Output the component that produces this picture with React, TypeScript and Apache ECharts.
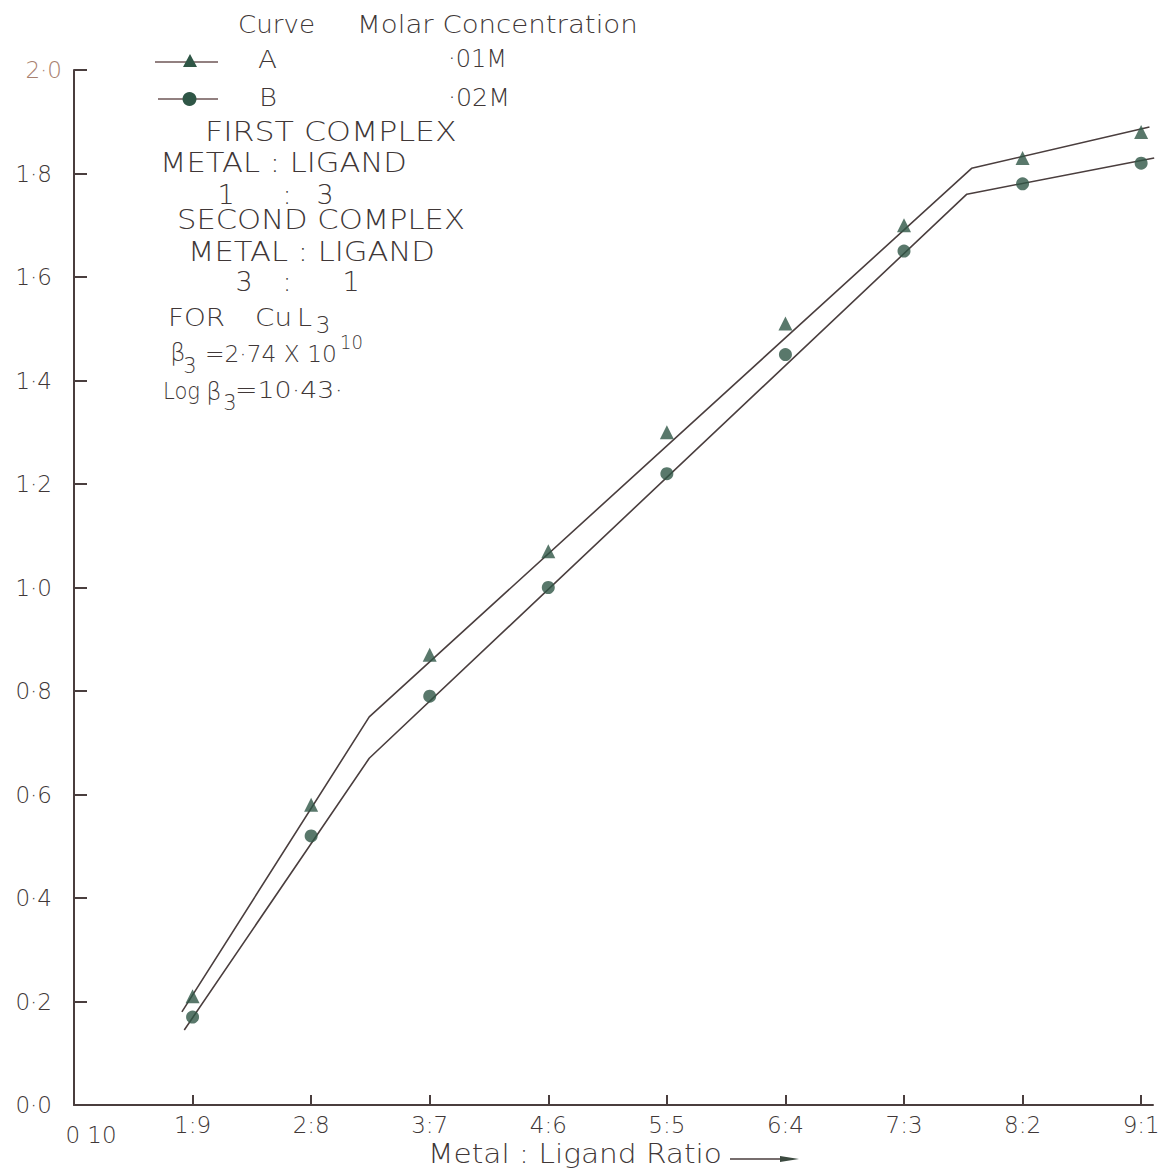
import React, { useEffect, useRef } from "react";
import * as echarts from "echarts";

const ratioPositions = [1, 2, 3, 4, 5, 6, 7, 8, 9];
const labelPositions = [0, 1, 2, 3, 4, 5, 6, 7, 8, 9];
const xTickLabels = ["0 10", "1:9", "2:8", "3:7", "4:6", "5:5", "6:4", "7:3", "8:2", "9:1"];
const yTickLabels = ["0·0", "0·2", "0·4", "0·6", "0·8", "1·0", "1·2", "1·4", "1·6", "1·8", "2·0"];

const curveA = [0.21, 0.58, 0.87, 1.07, 1.3, 1.51, 1.7, 1.83, 1.88];
const curveB = [0.17, 0.52, 0.79, 1.0, 1.22, 1.45, 1.65, 1.78, 1.82];

const fitA: [number, number][] = [[0.91, 0.18], [2.49, 0.75], [7.57, 1.81], [9.07, 1.89]];
const fitB: [number, number][] = [[0.93, 0.145], [2.49, 0.67], [7.53, 1.76], [9.11, 1.83]];

const FONT = "'DejaVu Sans', sans-serif";
const WEIGHT = 200;
const TEXT = "#403737";
const LINE = "#4a3e3e";
const MARK = "#2f5646";

let measureCtx: CanvasRenderingContext2D | null = null;
function measure(text: string, size: number) {
  if (!measureCtx) measureCtx = document.createElement("canvas").getContext("2d");
  measureCtx!.font = `${WEIGHT} ${size}px ${FONT}`;
  return measureCtx!.measureText(text).width;
}

// text stretched to span x1..x2, vertically centred on cy
function fit(text: string, x1: number, x2: number, cy: number, size: number) {
  const w = measure(text, size);
  return {
    type: "text",
    x: x1,
    y: cy,
    scaleX: (x2 - x1) / w,
    style: {
      text,
      fill: TEXT,
      font: `${WEIGHT} ${size}px ${FONT}`,
      textAlign: "left",
      textVerticalAlign: "middle",
    },
  };
}

function at(text: string, cx: number, cy: number, size: number) {
  return {
    type: "text",
    x: cx,
    y: cy,
    style: {
      text,
      fill: TEXT,
      font: `${WEIGHT} ${size}px ${FONT}`,
      textAlign: "center",
      textVerticalAlign: "middle",
    },
  };
}

export default function App() {
  const ref = useRef<HTMLDivElement>(null);
  useEffect(() => {
    document.body.style.margin = "0";
    const chart = echarts.init(ref.current!, null, { renderer: "svg" });
    const option: any = {
      animation: false,
      backgroundColor: "#ffffff",
      textStyle: { fontFamily: FONT },
      grid: { left: 74, right: 10, top: 70, bottom: 64 },
      xAxis: {
        type: "value",
        min: 0,
        max: 9.1,
        interval: 1,
        splitLine: { show: false },
        axisLine: { lineStyle: { color: LINE, width: 2 } },
        axisTick: {
          inside: true,
          length: 10,
          customValues: ratioPositions,
          lineStyle: { color: LINE, width: 2 },
        },
        axisLabel: {
          customValues: labelPositions,
          color: TEXT,
          fontSize: 23,
          fontWeight: WEIGHT,
          fontFamily: FONT,
          margin: 8,
          formatter: (v: number) => {
            const i = Math.round(v);
            if (i === 0) return "{z|" + xTickLabels[0] + "}";
            return xTickLabels[i] ?? "";
          },
          rich: {
            z: { fontSize: 23, fontWeight: WEIGHT, fontFamily: FONT, color: TEXT, padding: [10, 0, 0, 34] },
          },
        },
      },
      yAxis: {
        type: "value",
        min: 0,
        max: 2,
        interval: 0.2,
        splitLine: { show: false },
        axisLine: { show: true, lineStyle: { color: LINE, width: 2 } },
        axisTick: { show: true, inside: true, length: 13, lineStyle: { color: LINE, width: 2 } },
        axisLabel: {
          color: TEXT,
          fontSize: 23,
          fontWeight: WEIGHT,
          fontFamily: FONT,
          margin: 22,
          formatter: (v: number) => {
            const i = Math.round(v / 0.2);
            if (i === yTickLabels.length - 1) return "{o|" + yTickLabels[i] + "}";
            return yTickLabels[i] ?? "";
          },
          rich: {
            o: { fontSize: 23, fontWeight: WEIGHT, fontFamily: FONT, color: "#a8806e", padding: [0, -10, 0, 0] },
          },
        },
      },
      series: [
        { type: "line", data: fitA, symbol: "none", lineStyle: { color: LINE, width: 1.6 }, z: 2 },
        { type: "line", data: fitB, symbol: "none", lineStyle: { color: LINE, width: 1.6 }, z: 2 },
        {
          type: "scatter",
          name: "A",
          data: ratioPositions.map((x, i) => [x, curveA[i]]),
          symbol: "triangle",
          symbolSize: 14,
          itemStyle: { color: MARK },
          z: 3,
        },
        {
          type: "scatter",
          name: "B",
          data: ratioPositions.map((x, i) => [x, curveB[i]]),
          symbol: "circle",
          symbolSize: 13,
          itemStyle: { color: MARK },
          z: 3,
        },
      ],
      graphic: [
        fit("Curve", 238, 315, 24, 25),
        fit("Molar Concentration", 357, 638, 24, 25),
        { type: "line", shape: { x1: 155, y1: 62, x2: 218, y2: 62 }, style: { stroke: "#6e5656", lineWidth: 1.5 } },
        { type: "polygon", shape: { points: [[190, 54], [183, 67], [197, 67]] }, style: { fill: MARK } },
        fit("A", 258, 277, 60, 24),
        fit("·01M", 448, 507, 59, 24),
        { type: "line", shape: { x1: 158, y1: 99, x2: 218, y2: 99 }, style: { stroke: "#6e5656", lineWidth: 1.5 } },
        { type: "circle", shape: { cx: 189.5, cy: 99, r: 7 }, style: { fill: MARK } },
        fit("B", 259, 277, 98, 24),
        fit("·02M", 448, 510, 98, 24),
        fit("FIRST COMPLEX", 205, 457, 132, 27),
        fit("METAL : LIGAND", 160, 407, 163, 27),
        at("1", 226, 194, 27),
        at(":", 287, 194, 27),
        at("3", 325, 194, 27),
        fit("SECOND COMPLEX", 177, 465, 220, 27),
        fit("METAL : LIGAND", 188, 435, 252, 27),
        at("3", 244, 281, 27),
        at(":", 287, 281, 27),
        at("1", 351, 281, 27),
        fit("FOR", 168, 225, 318, 24),
        fit("Cu", 255, 292, 318, 24),
        fit("L", 297, 312, 318, 24),
        at("3", 323, 325, 23),
        at("β", 178, 353, 24),
        at("3", 190, 366, 21),
        fit("=2·74 X 10", 205, 337, 354, 23),
        fit("10", 340, 363, 342, 20),
        fit("Log", 163, 200, 391, 23),
        at("β", 214, 392, 24),
        at("3", 230, 403, 21),
        fit("=10·43·", 235, 343, 390, 23),
        fit("Metal : Ligand Ratio", 428, 722, 1154, 26),
        { type: "line", shape: { x1: 730, y1: 1159, x2: 788, y2: 1159 }, style: { stroke: LINE, lineWidth: 1.6 } },
        { type: "polygon", shape: { points: [[780, 1156], [799, 1159], [780, 1162]] }, style: { fill: "#3c4a40" } },
      ],
    };
    chart.setOption(option);
    return () => chart.dispose();
  }, []);
  return <div ref={ref} style={{ width: 1163, height: 1169 }} />;
}
